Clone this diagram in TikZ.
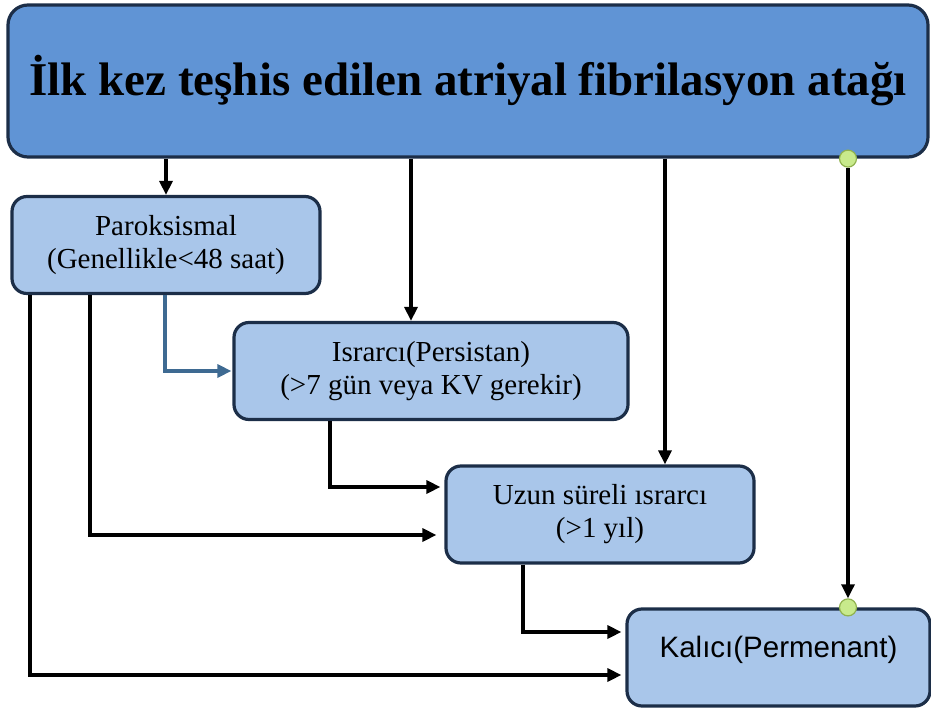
\documentclass[tikz,border=0pt]{standalone}
\usepackage{fontspec}
\setmainfont{Liberation Serif}
\newfontfamily\arialf{Liberation Sans}
\usetikzlibrary{arrows.meta,calc}
\definecolor{topblue}{HTML}{6094D5}
\definecolor{lightblue}{HTML}{A9C6EA}
\definecolor{navy}{HTML}{1C2E48}
\definecolor{linkblue}{HTML}{3E6A92}
\definecolor{dotgreen}{HTML}{C8EA8C}
\definecolor{dotedge}{HTML}{90B24E}
\tikzset{
  bigbox/.style={draw=navy, line width=3.2pt, fill=topblue, rounded corners=20pt, minimum width=920pt, minimum height=152pt, inner sep=0pt},
  smallbox/.style={draw=navy, line width=3.2pt, fill=lightblue, rounded corners=15pt, minimum height=97pt, inner sep=0pt, align=center, font=\fontsize{29}{33}\selectfont},
  arr/.style={draw=black, line width=3.2pt, -{Triangle[length=14pt,width=13pt]}},
  arrb/.style={draw=linkblue, line width=3.2pt, -{Triangle[length=14pt,width=13pt]}},
  gdot/.style={circle, fill=dotgreen, draw=dotedge, line width=1.2pt, minimum size=17pt, inner sep=0pt}
}
\begin{document}
\begin{tikzpicture}[x=1pt,y=-1pt]
\useasboundingbox (0,0) rectangle (931,711);
\node[bigbox] (top) at (468,81) {\fontsize{47}{50}\selectfont\bfseries İlk kez teşhis edilen atriyal fibrilasyon atağı};
\node[smallbox, minimum width=308pt] (par) at (166,245) {Paroksismal\\(Genellikle<48 saat)};
\node[smallbox, minimum width=394pt] (isr) at (431,371) {Israrcı(Persistan)\\(>7 gün veya KV gerekir)};
\node[smallbox, minimum width=308pt] (uzn) at (600,514.5) {Uzun süreli ısrarcı\\(>1 yıl)};
\node[smallbox, minimum width=303pt, font=\arialf\fontsize{29.5}{33}\selectfont, text height=21pt, text depth=21pt] (kal) at (778.5,657.5) {Kalıcı(Permenant)};
% helper coordinates
\coordinate (xb) at (411,0);
\coordinate (xc) at (665,0);
\coordinate (xd) at (848,0);
\coordinate (xp1) at (165,0);
\coordinate (xp2) at (90,0);
\coordinate (xp3) at (30,0);
\coordinate (xi) at (330,0);
\coordinate (xu) at (523,0);
\coordinate (yu1) at (0,487);
\coordinate (yu2) at (0,535);
\coordinate (yk1) at (0,632);
\coordinate (yk2) at (0,675);
% from top
\draw[arr] (top.south -| par.north) -- (par.north);
\draw[arr] (top.south -| xb) -- (isr.north -| xb);
\draw[arr] (top.south -| xc) -- (uzn.north -| xc);
\node[gdot] (d1) at (top.south -| xd) {};
\node[gdot] (d2) at (kal.north -| xd) {};
\draw[arr] (d1.south) -- (d2.north);
% from paroksismal
\draw[arrb, shorten >=1pt] (par.south -| xp1) |- (isr.west);
\draw[arr, shorten >=8pt] (par.south -| xp2) |- (uzn.west |- yu2);
\draw[arr, shorten >=4pt] (par.south -| xp3) |- (kal.west |- yk2);
% others
\draw[arr, shorten >=4pt] (isr.south -| xi) |- (uzn.west |- yu1);
\draw[arr, shorten >=4pt] (uzn.south -| xu) |- (kal.west |- yk1);
\end{tikzpicture}
\end{document}
